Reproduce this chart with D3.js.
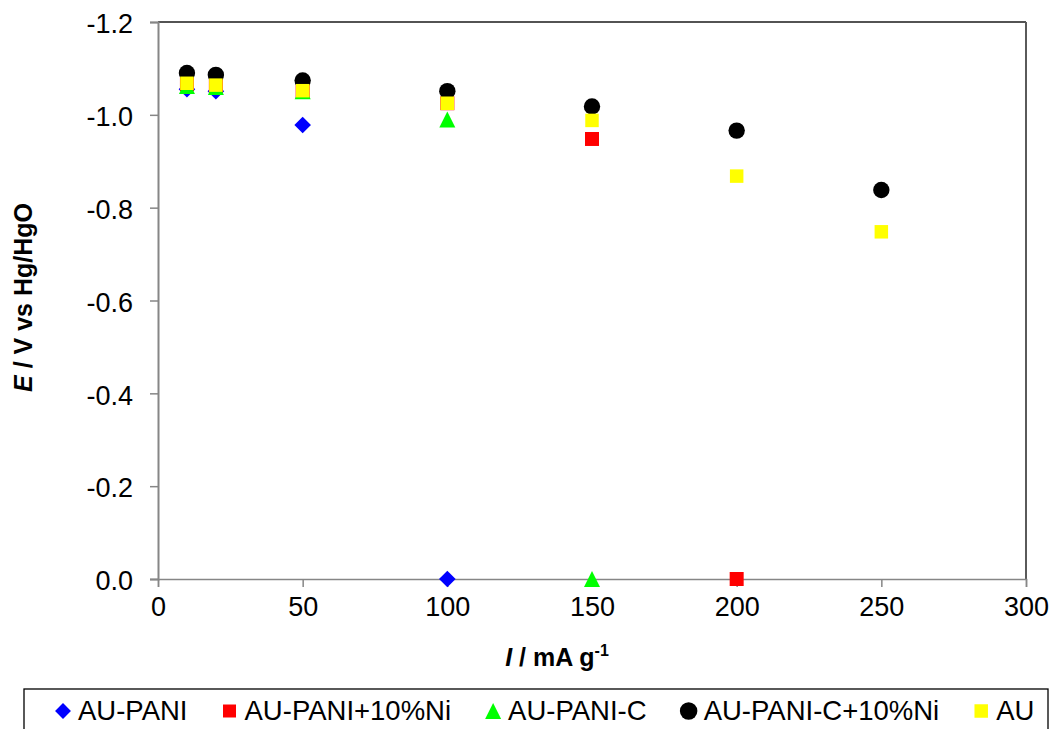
<!DOCTYPE html>
<html>
<head>
<meta charset="utf-8">
<script src="https://cdn.jsdelivr.net/npm/d3@7"></script>
<style>
  html, body { margin: 0; padding: 0; background: #fff; }
  svg { display: block; font-family: "Liberation Sans", Arial, sans-serif; }
</style>
</head>
<body>
<svg id="chart" width="1054" height="729"></svg>
<script>
// ---- data ----
const seriesNames = ["AU-PANI", "AU-PANI+10%Ni", "AU-PANI-C", "AU-PANI-C+10%Ni", "AU"];
const auPaniI = [10, 20, 50, 100];
const auPaniE = [-1.055, -1.051, -0.978, 0.0];
const auPaniNiI = [10, 20, 50, 100, 150, 200];
const auPaniNiE = [-1.066, -1.063, -1.050, -1.025, -0.948, 0.0];
const auPaniCI = [10, 20, 50, 100, 150];
const auPaniCE = [-1.062, -1.060, -1.051, -0.990, 0.0];
const auPaniCNiI = [10, 20, 50, 100, 150, 200, 250];
const auPaniCNiE = [-1.090, -1.086, -1.074, -1.051, -1.018, -0.966, -0.838];
const auI = [10, 20, 50, 100, 150, 200, 250];
const auE = [-1.068, -1.064, -1.052, -1.025, -0.988, -0.868, -0.748];
const xTicks = [0, 50, 100, 150, 200, 250, 300];
const yTicks = [0, -0.2, -0.4, -0.6, -0.8, -1.0, -1.2];

(function () {
// ---- layout ----
const svg = d3.select("#chart");
const pLeft = 158, pRight = 1026, pTop = 22, pBottom = 579;
const x = d3.scaleLinear().domain([0, 300]).range([pLeft, pRight]);
const y = d3.scaleLinear().domain([0, -1.2]).range([pBottom, pTop]);

// marker shapes
const triangleType = { draw(ctx, size) { const h = Math.sqrt(size) / 2; ctx.moveTo(0, -h); ctx.lineTo(h, h); ctx.lineTo(-h, h); ctx.closePath(); } };
const styles = [
  { type: d3.symbolDiamond2, size: 176, color: "#0000ff", lsize: 160 },
  { type: d3.symbolSquare, size: 196, color: "#ff0000", lsize: 169 },
  { type: triangleType, size: 256, color: "#00ff00", lsize: 256 },
  { type: d3.symbolCircle, size: 211, color: "#000000", lsize: 240 },
  { type: d3.symbolSquare, size: 182, color: "#ffff00", lsize: 182 }
];
const series = [
  d3.zip(auPaniI, auPaniE),
  d3.zip(auPaniNiI, auPaniNiE),
  d3.zip(auPaniCI, auPaniCE),
  d3.zip(auPaniCNiI, auPaniCNiE),
  d3.zip(auI, auE)
];

// plot frame: top and right borders
svg.append("line").attr("x1", pLeft).attr("x2", pRight).attr("y1", pTop).attr("y2", pTop)
  .attr("stroke", "#1a1a1a").attr("stroke-width", 1.3);
svg.append("line").attr("x1", pRight).attr("x2", pRight).attr("y1", pTop).attr("y2", pBottom)
  .attr("stroke", "#5a5a5a").attr("stroke-width", 2);

// y axis
const fmtY = d => d3.format(".1f")(d).replace("\u2212", "-");
const yAxis = d3.axisLeft(y).tickValues(yTicks).tickSize(8).tickPadding(17).tickFormat(fmtY);
const gy = svg.append("g").attr("transform", `translate(${pLeft},0)`).call(yAxis);
gy.select(".domain").attr("stroke", "#868686").attr("stroke-width", 2);
gy.selectAll(".tick line").attr("stroke", "#868686").attr("stroke-width", 1.5);
gy.selectAll(".tick text").attr("font-size", "27px").attr("fill", "#000")
  .attr("font-family", "Liberation Sans, Arial, sans-serif").attr("dy", "0.4em");

// x axis
const xAxis = d3.axisBottom(x).tickValues(xTicks).tickSize(8).tickPadding(10).tickFormat(d3.format("d"));
const gx = svg.append("g").attr("transform", `translate(0,${pBottom})`).call(xAxis);
gx.select(".domain").attr("stroke", "#868686").attr("stroke-width", 1.5);
gx.selectAll(".tick line").attr("stroke", "#868686").attr("stroke-width", 1.5);
gx.selectAll(".tick text").attr("font-size", "27px").attr("fill", "#000")
  .attr("font-family", "Liberation Sans, Arial, sans-serif");

// axis titles
const xt = svg.append("text").attr("x", 557).attr("y", 666).attr("text-anchor", "middle")
  .attr("font-size", "25px").attr("font-weight", "bold");
xt.append("tspan").attr("font-style", "italic").text("I");
xt.append("tspan").text(" / mA g");
xt.append("tspan").attr("font-size", "16px").attr("dy", "-10").text("-1");

const yt = svg.append("text").attr("transform", `translate(32,${(pTop + pBottom) / 2 - 3}) rotate(-90)`)
  .attr("text-anchor", "middle").attr("font-size", "25px").attr("font-weight", "bold");
yt.append("tspan").attr("font-style", "italic").text("E");
yt.append("tspan").text(" / V vs Hg/HgO");

// points
series.forEach((pts, i) => {
  const st = styles[i];
  svg.append("g").selectAll("path").data(pts).join("path")
    .attr("d", d3.symbol().type(st.type).size(st.size))
    .attr("transform", d => `translate(${x(d[0])},${y(d[1])})`)
    .attr("fill", st.color);
});

// legend
svg.append("rect").attr("x", 24).attr("y", 689).attr("width", 1024).attr("height", 60)
  .attr("fill", "#fff").attr("stroke", "#000").attr("stroke-width", 1.3);
let lx = 63;
seriesNames.forEach((name, i) => {
  const st = styles[i];
  svg.append("path").attr("d", d3.symbol().type(st.type).size(st.lsize))
    .attr("transform", `translate(${lx},711)`).attr("fill", st.color);
  const t = svg.append("text").attr("x", lx + 15).attr("y", 720).attr("font-size", "27.5px").text(name);
  lx = lx + 15 + t.node().getComputedTextLength() + 42;
});
})();
</script>
</body>
</html>
